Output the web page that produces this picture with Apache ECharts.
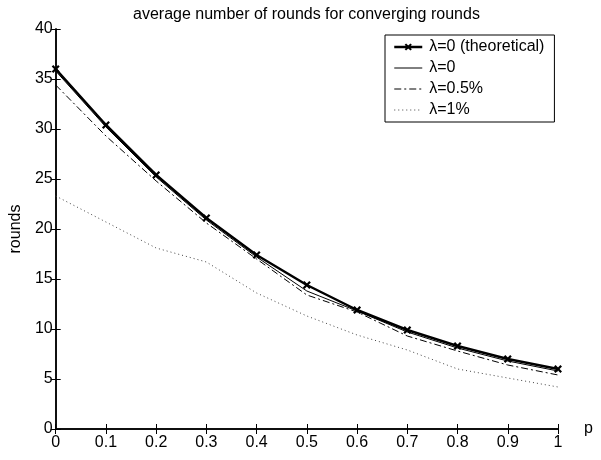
<!DOCTYPE html>
<html>
<head>
<meta charset="utf-8">
<title>average number of rounds</title>
<script src="https://cdn.jsdelivr.net/npm/echarts@6/dist/echarts.min.js"></script>
<style>
    html, body { margin: 0; padding: 0; background: #fff; }
    #demo { width: 601px; height: 460px; }
</style>
</head>
<body>
<div id="demo"></div>
<script>
// p 值（横轴）
var p_values = [0, 0.1, 0.2, 0.3, 0.4, 0.5, 0.6, 0.7, 0.8, 0.9, 1];
// 图例名称
var series_names = ['λ=0 (theoretical)', 'λ=0', 'λ=0.5%', 'λ=1%'];
// 各条曲线的值
var rounds_theory = [36.0, 30.4, 25.4, 21.1, 17.4, 14.4, 11.9, 9.9, 8.3, 7.0, 6.0];
var rounds_l0 = [35.8, 30.2, 25.2, 20.9, 17.2, 13.8, 11.8, 9.7, 8.1, 6.8, 5.8];
var rounds_l05 = [34.4, 29.3, 24.8, 20.6, 17.0, 13.4, 11.7, 9.3, 7.8, 6.4, 5.4];
var rounds_l1 = [23.3, 20.7, 18.1, 16.7, 13.6, 11.3, 9.4, 7.9, 6.0, 5.1, 4.2];

/**
 * 把横轴和数值拼成 [x, y]
 */
var to_pairs = function (vals) {
    var arr = [];
    for (var i = 0; i < p_values.length; i++) {
        arr.push([p_values[i], vals[i]]);
    }
    return arr;
};

var font = 'Liberation Sans, Arial, Helvetica, sans-serif';
var cross = 'path://M2,0 L5,3 L8,0 L10,2 L7,5 L10,8 L8,10 L5,7 L2,10 L0,8 L3,5 L0,2 Z';
// 图例里不画点，只画线
var no_dot = { color: 'rgba(0,0,0,0)', borderColor: 'rgba(0,0,0,0)', borderWidth: 0 };

var option = {
    backgroundColor: '#fff',
    animation: false,
    title: {
        text: 'average number of rounds for converging rounds',
        left: 128,
        top: 2,
        textStyle: { fontFamily: font, fontSize: 16, fontWeight: 'normal', color: '#000' }
    },
    legend: {
        orient: 'vertical',
        left: 385,
        top: 35,
        padding: [4, 10, 4, 8],
        itemGap: 5,
        itemWidth: 28,
        itemHeight: 9,
        backgroundColor: '#fff',
        borderColor: '#000',
        borderWidth: 1,
        borderRadius: 0,
        textStyle: { fontFamily: font, fontSize: 16, color: '#000', padding: [0, 0, 0, 2] },
        data: [
            { name: series_names[0], lineStyle: { width: 2.5 } },
            { name: series_names[1], itemStyle: no_dot, lineStyle: { width: 1 } },
            { name: series_names[2], itemStyle: no_dot, lineStyle: { width: 1 } },
            { name: series_names[3], itemStyle: no_dot, lineStyle: { width: 1 } }
        ]
    },
    grid: { left: 51, top: 29, width: 507, height: 400, containLabel: false },
    xAxis: [{
        type: 'value', min: 0, max: 1, interval: 0.1,
        name: 'p',
        nameLocation: 'end',
        nameGap: 26,
        nameTextStyle: { fontFamily: font, fontSize: 16, color: '#000', verticalAlign: 'middle' },
        axisLine: { lineStyle: { color: '#000', width: 1.5 } },
        axisTick: { inside: true, length: 5, lineStyle: { color: '#000' } },
        axisLabel: { fontFamily: font, fontSize: 16, color: '#000', margin: 6 },
        splitLine: { show: false }
    }, {
        type: 'value', min: 0, max: 1, interval: 0.1, position: 'top',
        axisLine: { lineStyle: { color: '#000', width: 1.5 } },
        axisTick: { inside: true, length: 5, lineStyle: { color: '#000' } },
        axisLabel: { show: false },
        splitLine: { show: false }
    }],
    yAxis: [{
        type: 'value', min: 0, max: 40, interval: 5,
        name: 'rounds',
        nameLocation: 'middle',
        nameGap: 24,
        nameTextStyle: { fontFamily: font, fontSize: 16, color: '#000' },
        axisLine: { lineStyle: { color: '#000', width: 1.5 } },
        axisTick: { inside: true, length: 5, lineStyle: { color: '#000' } },
        axisLabel: { fontFamily: font, fontSize: 16, color: '#000', margin: 3 },
        splitLine: { show: false }
    }, {
        type: 'value', min: 0, max: 40, interval: 5, position: 'right',
        axisLine: { lineStyle: { color: '#000', width: 1.5 } },
        axisTick: { inside: true, length: 5, lineStyle: { color: '#000' } },
        axisLabel: { show: false },
        splitLine: { show: false }
    }],
    series: [{
        name: series_names[3], type: 'line', data: to_pairs(rounds_l1),
        symbol: 'none', color: '#333',
        lineStyle: { color: '#444', width: 1, type: [1, 3] }
    }, {
        name: series_names[2], type: 'line', data: to_pairs(rounds_l05),
        symbol: 'none', color: '#000',
        lineStyle: { color: '#000', width: 1, type: [7, 3, 2, 3] }
    }, {
        name: series_names[1], type: 'line', data: to_pairs(rounds_l0),
        symbol: 'none', color: '#000',
        lineStyle: { color: '#000', width: 1 }
    }, {
        name: series_names[0], type: 'line', data: to_pairs(rounds_theory),
        symbol: cross, symbolSize: 8, showSymbol: true, color: '#000',
        itemStyle: { color: '#000' },
        lineStyle: { color: '#000', width: 2.5 }
    }]
};

var myChart = echarts.init(document.getElementById('demo'));
myChart.setOption(option);
</script>
</body>
</html>
